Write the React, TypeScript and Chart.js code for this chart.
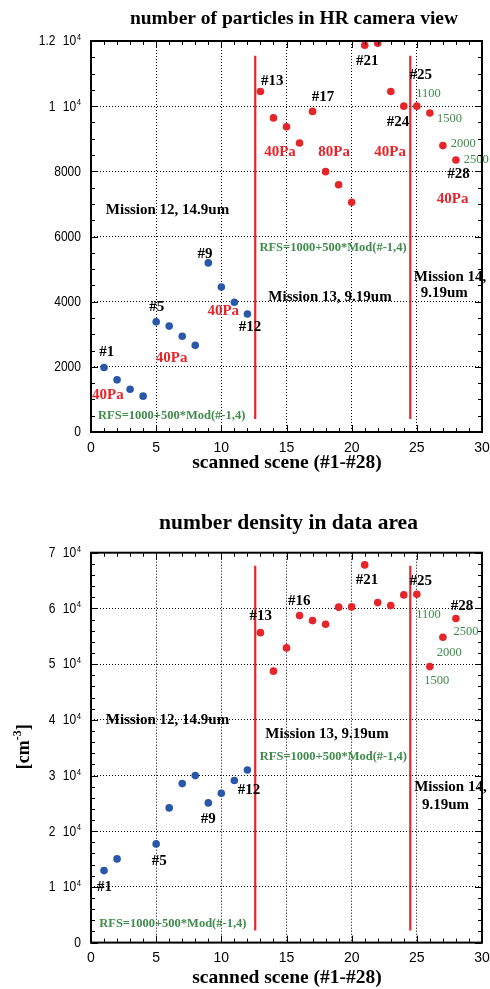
import { useEffect, useRef } from "react";
import { Chart, registerables } from "chart.js";

Chart.register(...registerables);

// ---------- measured values ----------
// Mission 12 scenes (blue) and Mission 13/14 scenes (red)
const countScenesM12 = [1, 2, 3, 4, 5, 6, 7, 8, 9, 10, 11, 12];
const particleCountM12 = [1980, 1600, 1310, 1100, 3380, 3250, 2940, 2660, 5190, 4450, 3980, 3620];
const countScenesM1314 = [13, 14, 15, 16, 17, 18, 19, 20, 21, 22, 23, 24, 25, 26, 27, 28];
const particleCountM1314 = [10450, 9640, 9370, 8870, 9840, 7990, 7590, 7050, 11870, 11930, 10450, 10000, 10000, 9790, 8790, 8350];

const densityScenesM12 = [1, 2, 5, 6, 7, 8, 9, 10, 11, 12];
const densityM12 = [12930, 15030, 17720, 24180, 28550, 29980, 25080, 26820, 29100, 31000];
const densityScenesM1314 = [13, 14, 15, 16, 17, 18, 19, 20, 21, 22, 23, 24, 25, 26, 27, 28];
const densityM1314 = [55650, 48730, 52910, 58710, 57810, 57160, 60220, 60270, 67810, 61040, 60500, 62420, 62550, 49550, 54830, 58180];

// mission boundaries (scene axis) and the extent of the marker lines
const missionBoundaries = [12.6, 24.5];
const countBoundaryRange = [400, 11550];
const densityBoundaryRange = [2150, 67650];

// axis ticks
const sceneTicks = [0, 5, 10, 15, 20, 25, 30];
const countTicks = [0, 2000, 4000, 6000, 8000, 10000, 12000];
const countTickLabels = ["0", "2000", "4000", "6000", "8000", "1 10^4", "1.2 10^4"];
const densityTicks = [0, 10000, 20000, 30000, 40000, 50000, 60000, 70000];
const densityTickLabels = ["0", "1 10^4", "2 10^4", "3 10^4", "4 10^4", "5 10^4", "6 10^4", "7 10^4"];

// text notes placed in data coordinates
type Note = { text: string; x: number; y: number; kind: "scene" | "pressure" | "mission" | "rfs" | "rfsValue" };

const countNotes: Note[] = [
  { text: "#1", x: 1.2, y: 2460, kind: "scene" },
  { text: "#5", x: 5.04, y: 3820, kind: "scene" },
  { text: "#9", x: 8.75, y: 5450, kind: "scene" },
  { text: "#12", x: 12.2, y: 3220, kind: "scene" },
  { text: "#13", x: 13.9, y: 10780, kind: "scene" },
  { text: "#17", x: 17.8, y: 10290, kind: "scene" },
  { text: "#21", x: 21.2, y: 11370, kind: "scene" },
  { text: "#24", x: 23.56, y: 9500, kind: "scene" },
  { text: "#25", x: 25.3, y: 10940, kind: "scene" },
  { text: "#28", x: 28.2, y: 7920, kind: "scene" },
  { text: "40Pa", x: 1.3, y: 1130, kind: "pressure" },
  { text: "40Pa", x: 6.19, y: 2260, kind: "pressure" },
  { text: "40Pa", x: 10.15, y: 3710, kind: "pressure" },
  { text: "40Pa", x: 14.5, y: 8590, kind: "pressure" },
  { text: "80Pa", x: 18.65, y: 8590, kind: "pressure" },
  { text: "40Pa", x: 22.95, y: 8590, kind: "pressure" },
  { text: "40Pa", x: 27.74, y: 7140, kind: "pressure" },
  { text: "Mission 12, 14.9um", x: 5.87, y: 6820, kind: "mission" },
  { text: "Mission 13, 9.19um", x: 18.34, y: 4140, kind: "mission" },
  { text: "Mission 14,", x: 27.55, y: 4760, kind: "mission" },
  { text: "9.19um", x: 27.1, y: 4250, kind: "mission" },
  { text: "RFS=1000+500*Mod(#-1,4)", x: 6.19, y: 490, kind: "rfs" },
  { text: "RFS=1000+500*Mod(#-1,4)", x: 18.57, y: 5660, kind: "rfs" },
  { text: "1100", x: 25.9, y: 10390, kind: "rfsValue" },
  { text: "1500", x: 27.5, y: 9610, kind: "rfsValue" },
  { text: "2000", x: 28.57, y: 8840, kind: "rfsValue" },
  { text: "2500", x: 29.55, y: 8350, kind: "rfsValue" },
];

const densityNotes: Note[] = [
  { text: "#1", x: 1.04, y: 9950, kind: "scene" },
  { text: "#5", x: 5.24, y: 14540, kind: "scene" },
  { text: "#9", x: 9.0, y: 22210, kind: "scene" },
  { text: "#12", x: 12.13, y: 27380, kind: "scene" },
  { text: "#13", x: 13.03, y: 58530, kind: "scene" },
  { text: "#16", x: 15.98, y: 61220, kind: "scene" },
  { text: "#21", x: 21.18, y: 65120, kind: "scene" },
  { text: "#25", x: 25.3, y: 64810, kind: "scene" },
  { text: "#28", x: 28.47, y: 60320, kind: "scene" },
  { text: "Mission 12, 14.9um", x: 5.87, y: 39980, kind: "mission" },
  { text: "Mission 13, 9.19um", x: 18.11, y: 37470, kind: "mission" },
  { text: "Mission 14,", x: 27.58, y: 27900, kind: "mission" },
  { text: "9.19um", x: 27.2, y: 24720, kind: "mission" },
  { text: "RFS=1000+500*Mod(#-1,4)", x: 6.28, y: 3360, kind: "rfs" },
  { text: "RFS=1000+500*Mod(#-1,4)", x: 18.6, y: 33290, kind: "rfs" },
  { text: "1100", x: 25.89, y: 58830, kind: "rfsValue" },
  { text: "1500", x: 26.53, y: 47040, kind: "rfsValue" },
  { text: "2000", x: 27.49, y: 52070, kind: "rfsValue" },
  { text: "2500", x: 28.77, y: 55840, kind: "rfsValue" },
];

// ---------- styling ----------
const BLUE = "#2a58a8";
const RED = "#e6252b";
const GREEN = "#3f8c4c";
const SERIF = '"Liberation Serif", "Times New Roman", serif';
const SANS = '"Liberation Sans", Arial, sans-serif';

const noteStyle: Record<Note["kind"], { font: string; color: string }> = {
  scene: { font: `bold 15px ${SERIF}`, color: "#000" },
  pressure: { font: `bold 15px ${SERIF}`, color: RED },
  mission: { font: `bold 15px ${SERIF}`, color: "#000" },
  rfs: { font: `bold 12.5px ${SERIF}`, color: GREEN },
  rfsValue: { font: `12.5px ${SERIF}`, color: GREEN },
};

type PanelSpec = {
  title: string;
  titleSize: number;
  titleX: number;
  titleBaseline: number;
  xTitleY: number;
  yTitle?: boolean;
  yMax: number;
  yMinor: number;
  yTicks: number[];
  yTickLabels: string[];
  notes: Note[];
};

// y tick label, e.g. "1.2 10^4" -> mantissa, "10", superscript exponent
function drawYLabel(ctx: CanvasRenderingContext2D, label: string, xRight: number, yMid: number) {
  ctx.save();
  ctx.translate(xRight, yMid);
  ctx.scale(0.86, 1);
  ctx.fillStyle = "#000";
  ctx.textBaseline = "middle";
  ctx.textAlign = "right";
  const parts = label.split(" 10^");
  if (parts.length === 2) {
    ctx.font = `9px ${SANS}`;
    ctx.textBaseline = "alphabetic";
    ctx.fillText(parts[1], 0, -1);
    const ew = ctx.measureText(parts[1]).width;
    ctx.font = `14px ${SANS}`;
    ctx.textBaseline = "middle";
    ctx.fillText("10", -ew - 0.5, 0.5);
    const tw = ctx.measureText("10").width;
    ctx.fillText(parts[0], -ew - tw - 9, 0.5);
  } else {
    ctx.font = `14px ${SANS}`;
    ctx.fillText(label, 0, 0.5);
  }
  ctx.restore();
}

function makeDecor(spec: PanelSpec) {
  return {
    id: "panelDecor",
    afterDatasetsDraw(chart: Chart) {
      const ctx = chart.ctx;
      const xs = chart.scales.x;
      const ys = chart.scales.y;
      ctx.save();
      ctx.textAlign = "center";
      ctx.textBaseline = "middle";
      for (const n of spec.notes) {
        const st = noteStyle[n.kind];
        ctx.font = st.font;
        ctx.fillStyle = st.color;
        ctx.fillText(n.text, xs.getPixelForValue(n.x), ys.getPixelForValue(n.y));
      }
      ctx.restore();
    },
    afterDraw(chart: Chart) {
      const ctx = chart.ctx;
      const { left, right, top, bottom } = chart.chartArea;
      const xs = chart.scales.x;
      const ys = chart.scales.y;
      ctx.save();
      // inward ticks on all four sides
      ctx.strokeStyle = "#000";
      ctx.lineWidth = 1;
      ctx.beginPath();
      for (let v = 0; v <= 30; v++) {
        const px = Math.round(xs.getPixelForValue(v)) + 0.5;
        const len = v % 5 === 0 ? 7 : 4;
        ctx.moveTo(px, bottom);
        ctx.lineTo(px, bottom - len);
        ctx.moveTo(px, top);
        ctx.lineTo(px, top + len);
      }
      const yMajor = spec.yTicks[1] - spec.yTicks[0];
      for (let v = 0; v <= spec.yMax; v += spec.yMinor) {
        const py = Math.round(ys.getPixelForValue(v)) + 0.5;
        const len = v % yMajor === 0 ? 7 : 4;
        ctx.moveTo(left, py);
        ctx.lineTo(left + len, py);
        ctx.moveTo(right, py);
        ctx.lineTo(right - len, py);
      }
      ctx.stroke();
      // frame
      ctx.lineWidth = 2;
      ctx.strokeRect(left, top, right - left, bottom - top);

      // x tick labels
      ctx.fillStyle = "#000";
      ctx.font = `14px ${SANS}`;
      ctx.textAlign = "center";
      ctx.textBaseline = "middle";
      for (const v of sceneTicks) {
        ctx.fillText(String(v), xs.getPixelForValue(v), bottom + 16);
      }
      // y tick labels
      spec.yTicks.forEach((v, i) => drawYLabel(ctx, spec.yTickLabels[i], left - 10, ys.getPixelForValue(v)));

      // titles
      ctx.fillStyle = "#000";
      ctx.textAlign = "center";
      ctx.textBaseline = "alphabetic";
      ctx.font = `bold ${spec.titleSize}px ${SERIF}`;
      ctx.fillText(spec.title, spec.titleX, spec.titleBaseline);
      ctx.font = `bold 19.5px ${SERIF}`;
      ctx.textBaseline = "middle";
      ctx.fillText("scanned scene (#1-#28)", 287, spec.xTitleY);

      if (spec.yTitle) {
        ctx.save();
        ctx.translate(29, (top + bottom) / 2 - 1);
        ctx.rotate(-Math.PI / 2);
        ctx.textBaseline = "alphabetic";
        ctx.textAlign = "left";
        ctx.font = `bold 18px ${SERIF}`;
        const a = "[cm";
        const b = "-3";
        const c = "]";
        const wa = ctx.measureText(a).width;
        const wc = ctx.measureText(c).width;
        ctx.font = `bold 12px ${SERIF}`;
        const wb = ctx.measureText(b).width;
        const start = -(wa + wb + wc) / 2;
        ctx.font = `bold 18px ${SERIF}`;
        ctx.fillText(a, start, 0);
        ctx.fillText(c, start + wa + wb, 0);
        ctx.font = `bold 12px ${SERIF}`;
        ctx.fillText(b, start + wa, -8);
        ctx.restore();
      }
      ctx.restore();
    },
  };
}

function boundaryDatasets(range: number[]) {
  return missionBoundaries.map((x) => ({
    data: range.map((y) => ({ x, y })),
    showLine: true,
    borderColor: RED,
    borderWidth: 2.2,
    pointRadius: 0,
  }));
}

function buildConfig(
  spec: PanelSpec,
  blueX: number[],
  blueY: number[],
  redX: number[],
  redY: number[],
  boundaryRange: number[],
  padTop: number,
  xAxisHeight: number
): any {
  return {
    type: "scatter",
    data: {
      datasets: [
        ...boundaryDatasets(boundaryRange),
        {
          data: blueX.map((x, i) => ({ x, y: blueY[i] })),
          backgroundColor: BLUE,
          borderWidth: 0,
          pointRadius: 3.8,
        },
        {
          data: redX.map((x, i) => ({ x, y: redY[i] })),
          backgroundColor: RED,
          borderWidth: 0,
          pointRadius: 3.8,
        },
      ],
    },
    options: {
      animation: false,
      responsive: false,
      maintainAspectRatio: false,
      events: [],
      layout: { padding: { left: 0, right: 8, top: padTop, bottom: 0 } },
      plugins: { legend: { display: false }, tooltip: { enabled: false }, title: { display: false } },
      scales: {
        x: {
          type: "linear",
          min: 0,
          max: 30,
          ticks: { display: false, stepSize: 5 },
          grid: { color: "#000", lineWidth: 1, drawTicks: false },
          border: { display: false, dash: [1, 2] },
          afterFit: (s: any) => {
            s.height = xAxisHeight;
          },
        },
        y: {
          type: "linear",
          min: 0,
          max: spec.yMax,
          ticks: { display: false, stepSize: spec.yTicks[1] - spec.yTicks[0] },
          grid: { color: "#000", lineWidth: 1, drawTicks: false },
          border: { display: false, dash: [1, 2] },
          afterFit: (s: any) => {
            s.width = 91;
          },
        },
      },
    },
    plugins: [makeDecor(spec)],
  };
}

const countSpec: PanelSpec = {
  title: "number of particles in HR camera view",
  titleSize: 19.5,
  titleX: 294,
  titleBaseline: 24,
  xTitleY: 463,
  yMax: 12000,
  yMinor: 500,
  yTicks: countTicks,
  yTickLabels: countTickLabels,
  notes: countNotes,
};

const densitySpec: PanelSpec = {
  title: "number density in data area",
  titleSize: 21.5,
  titleX: 288.5,
  titleBaseline: 33.5,
  xTitleY: 483,
  yTitle: true,
  yMax: 70000,
  yMinor: 2000,
  yTicks: densityTicks,
  yTickLabels: densityTickLabels,
  notes: densityNotes,
};

export default function App() {
  const topRef = useRef<HTMLCanvasElement | null>(null);
  const bottomRef = useRef<HTMLCanvasElement | null>(null);

  useEffect(() => {
    const top = new Chart(
      topRef.current as HTMLCanvasElement,
      buildConfig(countSpec, countScenesM12, particleCountM12, countScenesM1314, particleCountM1314, countBoundaryRange, 41, 63)
    );
    const bottom = new Chart(
      bottomRef.current as HTMLCanvasElement,
      buildConfig(densitySpec, densityScenesM12, densityM12, densityScenesM1314, densityM1314, densityBoundaryRange, 57.7, 46.4)
    );
    return () => {
      top.destroy();
      bottom.destroy();
    };
  }, []);

  return (
    <div style={{ position: "absolute", left: 0, top: 0, width: 490, height: 989, background: "#fff" }}>
      <canvas ref={topRef} width={490} height={495} style={{ display: "block", width: 490, height: 495 }} />
      <canvas ref={bottomRef} width={490} height={494} style={{ display: "block", width: 490, height: 494 }} />
    </div>
  );
}
